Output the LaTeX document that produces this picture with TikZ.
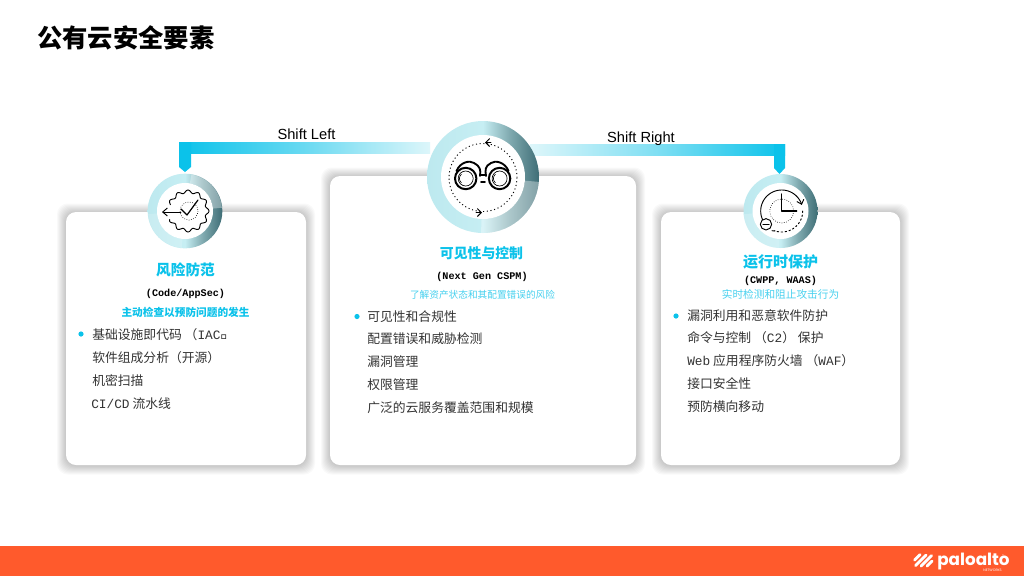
\documentclass[tikz,border=0pt]{standalone}
\usepackage{fontspec}
\setmainfont{Noto Sans CJK SC}
\newfontfamily\arialf{Liberation Sans}
\newfontfamily\monof{Liberation Mono}
\newfontfamily\logof{Poppins}
\usetikzlibrary{calc,arrows.meta}
\definecolor{accent}{HTML}{0BC2EA}
\definecolor{bodytxt}{HTML}{333333}
\definecolor{footer}{HTML}{FF5A2C}
\definecolor{ringA}{HTML}{BDE9EF}
\definecolor{ringB}{HTML}{C6EEF3}
\definecolor{ringC}{HTML}{7FA9AF}
\definecolor{ringD}{HTML}{3F6E76}
\definecolor{barpale}{HTML}{DDF6FA}
\pgfdeclarehorizontalshading{ringshade}{100bp}{color(0bp)=(ringA);color(25bp)=(ringA);color(50bp)=(ringB);color(62bp)=(ringC);color(75bp)=(ringD);color(100bp)=(ringD)}
\tikzset{
  x=0.75pt,y=-0.75pt,
  cardbox/.style={draw=none,fill=white,rounded corners=7.5pt},
  ringbase/.style={circle,draw=none,shading=ringshade,inner sep=0pt},
  ringhole/.style={circle,draw=none,fill=white,inner sep=0pt},
  headtxt/.style={text=accent,font=\fontsize{#1}{#1}\selectfont\bfseries,inner sep=0pt,anchor=base},
  subtxt/.style={text=black,font=\fontsize{7.6}{8}\monof\bfseries,inner sep=0pt,anchor=base},
  notebold/.style={text=accent,font=\fontsize{8}{8}\selectfont\bfseries,inner sep=0pt,anchor=base},
  notelight/.style={text=accent!75,font=\fontsize{#1}{#1}\selectfont,inner sep=0pt,anchor=base},
  itemtxt/.style={text=bodytxt,font=\fontsize{9.6}{10}\selectfont,inner sep=0pt,anchor=base west},
  dotbullet/.style={circle,fill=accent,draw=none,minimum size=3.9pt,inner sep=0pt},
  shifttxt/.style={text=black,font=\fontsize{11}{11}\arialf,inner sep=0pt,anchor=base},
  iconline/.style={draw=black,line width=0.7pt,line join=round,line cap=round},
  iconthick/.style={draw=black,line width=1.1pt,line join=round,line cap=round},
  icondots/.style={draw=black,line width=0.45pt,dash pattern=on 0.5pt off 1.2pt},
  icondots2/.style={draw=black,line width=0.7pt,dash pattern=on 0.8pt off 2pt},
}
\newcommand{\shadowfor}[4]{% x1 y1 x2 y2
  \foreach \d in {1,...,9}{
    \fill[black,opacity=0.022,rounded corners=8pt] ({#1-\d},{#2-\d+0.5}) rectangle ({#3+\d},{#4+\d+0.5});
  }}
\newcommand{\ringsector}[7]{% cx cy r1 r2 a1 a2 opacity
  \fill[white,opacity=#7] plot[domain=#5:#6,samples=40,smooth] ({#1+#4*cos(\x)},{#2+#4*sin(\x)})
    -- plot[domain=#6:#5,samples=40,smooth] ({#1+#3*cos(\x)},{#2+#3*sin(\x)}) -- cycle;
}
\begin{document}
\begin{tikzpicture}
\useasboundingbox (0,0) rectangle (1024,576);
\fill[white] (0,0) rectangle (1024,576);
% footer
\fill[footer] (0,546) rectangle (1024,576);
\node[inner sep=0pt,anchor=base west,font=\fontsize{19}{19}\selectfont\bfseries,text=black] (title) at (37,47) {公有云安全要素};

% cards
\shadowfor{66}{212}{306}{465}
\shadowfor{330}{176}{636}{465}
\shadowfor{661}{212}{900}{465}
\node[cardbox,minimum width=180pt,minimum height=189.75pt,inner sep=0pt] (cardL) at (186,338.5) {};
\node[cardbox,minimum width=229.5pt,minimum height=216.75pt,inner sep=0pt] (cardC) at (483,320.5) {};
\node[cardbox,minimum width=179.25pt,minimum height=189.75pt,inner sep=0pt] (cardR) at (780.5,338.5) {};

% connectors
\coordinate (hubL) at (430,147.5);
\coordinate (hubR) at (530,149.5);
\coordinate (endL) at (185,147.5);
\coordinate (endR) at (779.5,149.5);
\shade[left color=accent,right color=barpale,middle color=accent!55!barpale] (179,142) rectangle (hubL|-0,153);
\shade[left color=barpale,right color=accent,middle color=accent!45!barpale] (hubR|-0,144) rectangle (785,155);
\fill[accent] (179,142) -- (191,142) -- (191,167) -- (185,172) -- (179,167) -- cycle;
\fill[accent] (774,144) -- (785,144) -- (785,168) -- (779.5,174) -- (774,168) -- cycle;

\node[shifttxt] (shiftL) at (306.5,139) {Shift Left};
\node[shifttxt] (shiftR) at (641,142.5) {Shift Right};

% rings
\node[ringbase,minimum size=56pt] (ringL) at (185,211) {};
\node[ringbase,minimum size=84pt] (ringC) at (483,177) {};
\node[ringbase,minimum size=55.5pt] (ringR) at (780.5,211) {};
\ringsector{185}{211}{28}{37}{-80}{-5}{0.35}
\ringsector{185}{211}{28}{37}{95}{175}{0.18}
\ringsector{483}{177}{42}{56}{5}{92}{0.35}
\ringsector{780.5}{211}{28}{37}{92}{175}{0.2}
\node[ringhole,minimum size=42pt] (holeL) at (185,211) {};
\node[ringhole,minimum size=63pt] (holeC) at (483,177) {};
\node[ringhole,minimum size=42pt] (holeR) at (780.5,211) {};

% gear icon
\draw[iconline] plot[domain=200:515,samples=220,smooth] ({188+(19.5+1.5*cos(12*\x))*cos(\x)},{211+(19.5+1.5*cos(12*\x))*sin(\x)});
\draw[iconline,-{Straight Barb[length=3.5pt,width=6pt]}] (181,212) -- (162,212);
\draw[iconline,line width=0.9pt] (181,209) -- (187,215) -- (198,200);
\draw[icondots] (189,211) circle (9);

% binoculars icon
\draw[icondots2] (483,177.5) circle (34);
\draw[iconline,-{Straight Barb[length=3pt,width=6pt]}] (491,142.5) -- (485,142.5);
\draw[iconline,-{Straight Barb[length=3pt,width=6pt]}] (476,212.5) -- (482,212.5);
\draw[iconthick,line width=1.5pt] (465.7,178.5) circle (10.7);
\draw[iconthick,line width=1.5pt] (499.6,178.5) circle (10.7);
\draw[iconthick,line width=1.4pt] (456.5,171) .. controls (460,162) and (470,160) .. (474,163) .. controls (480,166) and (481,170) .. (480,176);
\draw[iconthick,line width=1.4pt] (508.5,171) .. controls (505,162) and (495,160) .. (491,163) .. controls (485,166) and (485,170) .. (486,176);
\draw[iconthick,line width=1.4pt] (480,175) -- (486,175);
\draw[iconthick,line width=1.4pt] (481,182) -- (485,182);
\draw[iconline,line width=0.5pt] (465.7,178.5) circle (7.5);
\draw[iconline,line width=0.5pt] (499.6,178.5) circle (7.5);
\draw[iconline,line width=0.5pt] plot[domain=130:230,samples=20,smooth] ({465+5.5*cos(\x)},{178.5+5.5*sin(\x)});
\draw[iconline,line width=0.5pt] plot[domain=130:230,samples=20,smooth] ({499+5.5*cos(\x)},{178.5+5.5*sin(\x)});

% clock icon
\draw[iconline,-{Straight Barb[length=3pt,width=5.5pt]}] plot[domain=150:343,samples=60,smooth] ({781.7+21*cos(\x)},{211+21*sin(\x)});
\draw[iconline,dashed,dash pattern=on 1.2pt off 1.8pt] plot[domain=0:110,samples=40,smooth] ({781.7+21*cos(\x)},{211+21*sin(\x)});
\draw[iconline] (772,230.7) -- (775,231);
\draw[icondots] (781.7,211) circle (12);
\draw[iconline,line width=0.9pt] (781.7,194) -- (781.7,211) -- (796.7,211);
\node[circle,draw=black,line width=0.7pt,fill=white,minimum size=8.5pt,inner sep=0pt] (minusC) at (766,224.3) {};
\draw[iconline,line width=0.8pt] ($(minusC)+(-3,0)$) -- ($(minusC)+(3,0)$);

% left card text
\node[headtxt=11] (hL) at (185.5,275) {风险防范};
\node[subtxt] (sL) at (185.5,296.5) {(Code/AppSec)};
\node[notebold] (nL) at (185.5,316.5) {主动检查以预防问题的发生};
\node[dotbullet] (bL) at (81,334) {};
\node[itemtxt] (l1) at (92,339.5) {基础设施即代码 （\monof IAC）};
\node[itemtxt] (l2) at (92,362) {软件组成分析（开源）};
\node[itemtxt] (l3) at (92,385.5) {机密扫描};
\node[itemtxt] (l4) at (91,408.5) {{\monof CI/CD} 流水线};

% centre card text
\node[headtxt=10.4] (hC) at (481.5,258.5) {可见性与控制};
\node[subtxt] (sC) at (482,279.5) {(Next Gen CSPM)};
\node[notelight=7.25] (nC) at (482.5,298.5) {了解资产状态和其配置错误的风险};
\node[dotbullet] (bC) at (357,316.5) {};
\node[itemtxt] (c1) at (367,321) {可见性和合规性};
\node[itemtxt] (c2) at (367,343.5) {配置错误和威胁检测};
\node[itemtxt] (c3) at (367,366.5) {漏洞管理};
\node[itemtxt] (c4) at (367,389.5) {权限管理};
\node[itemtxt] (c5) at (367,412.5) {广泛的云服务覆盖范围和规模};

% right card text
\node[headtxt=11.25] (hR) at (780.5,267) {运行时保护};
\node[subtxt] (sR) at (780.5,283) {(CWPP, WAAS)};
\node[notelight=8] (nR) at (780.5,298) {实时检测和阻止攻击行为};
\node[dotbullet] (bR) at (676,316) {};
\node[itemtxt] (r1) at (687,320.5) {漏洞利用和恶意软件防护};
\node[itemtxt] (r2) at (687,342.5) {命令与控制 （{\monof C2}） 保护};
\node[itemtxt] (r3) at (687,365.5) {{\monof Web} 应用程序防火墙 （{\monof WAF}）};
\node[itemtxt] (r4) at (687,388.5) {接口安全性};
\node[itemtxt] (r5) at (687,411.5) {预防横向移动};

% logo
\begin{scope}[white,line cap=round,line width=2.1pt]
  \draw (914.5,560) -- (920,554.5);
  \draw (915.5,565.5) -- (926,555);
  \draw (921,566) -- (931.5,555.5);
  \draw (927,566) -- (932,561);
\end{scope}
\node[text=white,inner sep=0pt,anchor=base west,font=\fontsize{12.6}{12.6}\logof\bfseries] (logo) at (937,565) {paloalto};
\node[text=white,inner sep=0pt,anchor=base west,font=\fontsize{2}{2}\logof] (reg) at (1002,556) {®};
\node[text=white,inner sep=0pt,anchor=base east,font=\fontsize{2.6}{3}\logof] (net) at (1002,571) {NETWORKS};
\end{tikzpicture}
\end{document}
